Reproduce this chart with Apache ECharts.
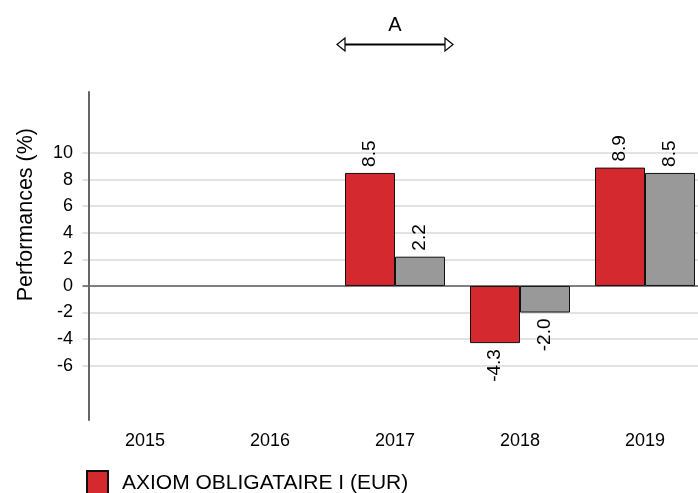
<!DOCTYPE html>
<html>
<head>
<meta charset="utf-8">
<script src="https://cdn.jsdelivr.net/npm/echarts@6/dist/echarts.min.js"></script>
<style>
  html, body { margin: 0; padding: 0; background: #fff; }
  #chart { width: 698px; height: 493px; }
</style>
</head>
<body>
<div id="chart"></div>
<script>
const years = ['2015', '2016', '2017', '2018', '2019']
const fundName = 'AXIOM OBLIGATAIRE I (EUR)'
const fundPerf = [null, null, 8.5, -4.3, 8.9]
const benchName = 'Indice'
const benchPerf = [null, null, 2.2, -2.0, 8.5]
const yMin = -6, yMax = 10, yStep = 2

const font = "'Liberation Sans', Arial, sans-serif"
const RED = '#d42a2f', GREY = '#999999'

// label above positive bars, below negative ones, rotated like the original
const withLabels = arr => arr.map(v => v == null ? null : {
  value: v,
  label: v >= 0 ? { position: 'top', align: 'left' } : { position: 'bottom', align: 'right' }
})

const barLabel = { show: true, rotate: 90, verticalAlign: 'middle', distance: 6, color: '#000', fontSize: 19,
  fontFamily: font, formatter: p => p.value.toFixed(1) }

const chart = echarts.init(document.getElementById('chart'))
chart.setOption({
  animation: false,
  textStyle: { fontFamily: font },
  grid: [
    { left: 82.5, width: 625, top: 153, height: 212.7, outerBoundsMode: 'none', containLabel: false },
    { left: 82.5, width: 625, top: 92, height: 328, outerBoundsMode: 'none', containLabel: false }
  ],
  xAxis: [
    { type: 'category', data: years, gridIndex: 0, show: false },
    { type: 'category', data: years, gridIndex: 1, axisLine: { show: false }, axisTick: { show: false },
      axisLabel: { color: '#000', fontSize: 18, margin: 12, fontFamily: font } }
  ],
  yAxis: [
    { type: 'value', gridIndex: 0, min: yMin, max: yMax, interval: yStep, offset: -6.5,
      axisLine: { show: false }, axisTick: { show: false },
      axisLabel: { color: '#000', fontSize: 18, margin: 16, fontFamily: font },
      splitLine: { lineStyle: { color: ['#d9d9d9', '#d9d9d9', '#d9d9d9', '#555555', '#d9d9d9', '#d9d9d9', '#d9d9d9', '#d9d9d9', '#d9d9d9'],
        width: 1.5 } } },
    { type: 'value', gridIndex: 1, offset: -6.5, axisLabel: { show: false }, axisTick: { show: false },
      splitLine: { show: false }, axisLine: { show: true, lineStyle: { color: '#666', width: 2 } } }
  ],
  legend: {
    data: [fundName], left: 86, top: 470, padding: 0, itemWidth: 21, itemHeight: 25, icon: 'rect',
    textStyle: { color: '#000', fontSize: 21, fontFamily: font, padding: [0, 0, 0, 9] }
  },
  series: [
    { name: fundName, type: 'bar', data: withLabels(fundPerf), barWidth: 50, barGap: 0,
      itemStyle: { color: RED, borderColor: '#111', borderWidth: 1 }, label: barLabel },
    { name: benchName, type: 'bar', data: withLabels(benchPerf), barWidth: 50, barGap: 0,
      itemStyle: { color: GREY, borderColor: '#111', borderWidth: 1 }, label: barLabel }
  ],
  graphic: [
    { type: 'text', left: 15, top: 128, rotation: Math.PI / 2,
      style: { text: 'Performances (%)', fill: '#000', font: '21.5px ' + font } },
    { type: 'text', x: 395, y: 25, style: { text: 'A', fill: '#000', font: '20px ' + font, align: 'center', verticalAlign: 'middle' } },
    { type: 'line', shape: { x1: 344, y1: 44.5, x2: 446, y2: 44.5 }, style: { stroke: '#000', lineWidth: 2 } },
    { type: 'polygon', shape: { points: [[337, 44.5], [345, 38], [345, 51]] }, style: { fill: '#fff', stroke: '#000', lineWidth: 1.2 } },
    { type: 'polygon', shape: { points: [[453, 44.5], [445, 38], [445, 51]] }, style: { fill: '#fff', stroke: '#000', lineWidth: 1.2 } }
  ]
})
</script>
</body>
</html>
